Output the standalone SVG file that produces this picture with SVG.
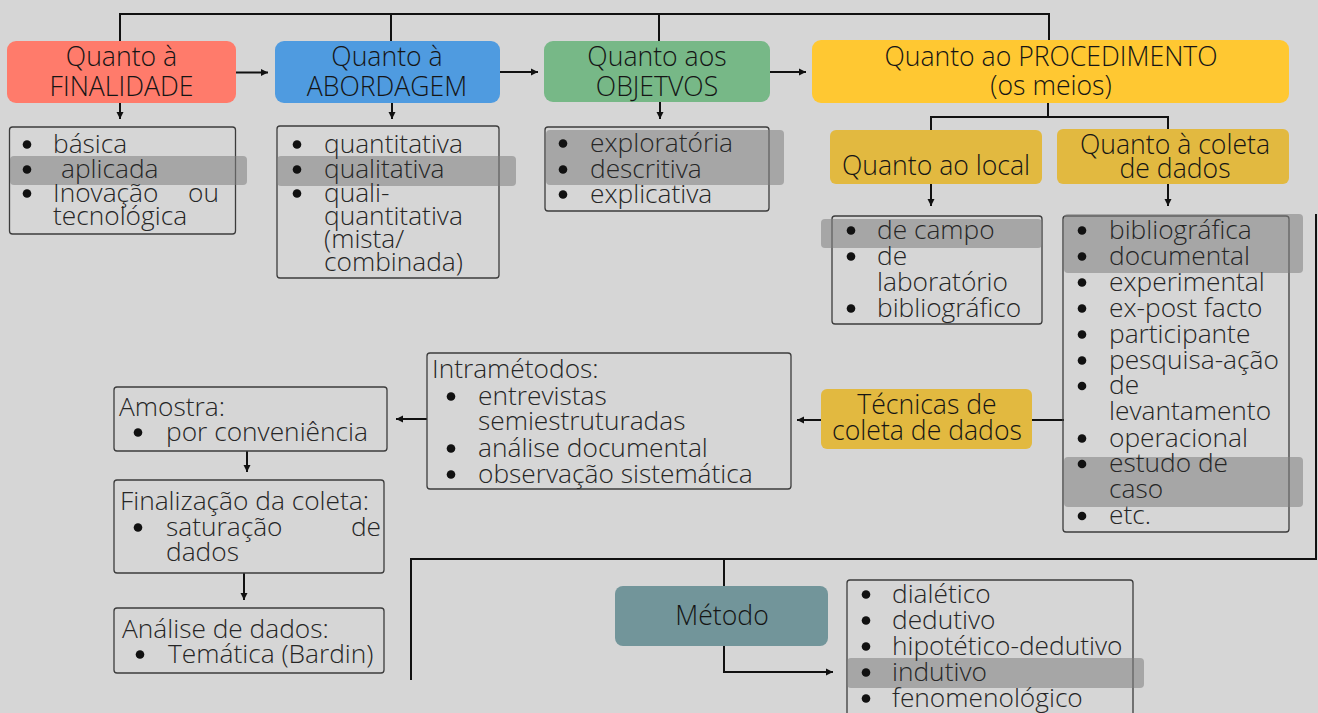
<svg xmlns="http://www.w3.org/2000/svg" width="1318" height="713" viewBox="0 0 1318 713">
<style>
.bg{fill:#d6d6d6}
.hd{font-family:"Open Sans","Liberation Sans",sans-serif;font-weight:300;font-size:26.6px;fill:#151515;text-anchor:middle}
.li{font-family:"Open Sans","Liberation Sans",sans-serif;font-weight:300;font-size:26.3px;fill:#262626}
.box{fill:none;stroke:#3c3c3c;stroke-width:1.3}
.hl{fill:#808080;opacity:0.55}
.dot{fill:#111}
.cn{fill:none;stroke:#111;stroke-width:2}
.r{fill:#ff7b6b}.b{fill:#4f9be0}.g{fill:#77b887}.y{fill:#ffc832}.m{fill:#e2b940}.t{fill:#72959a}
</style>
<defs>
<marker id="ah" markerUnits="userSpaceOnUse" markerWidth="8" markerHeight="8" refX="7" refY="4" orient="auto">
<path d="M0,0.5 L7,4 L0,7.5 z" fill="#111"/>
</marker>
</defs>
<rect class="bg" x="0" y="0" width="1318" height="713"/>

<g id="connectors">
<path class="cn" d="M120,41 V14 H1049 V41 M391,14 V41 M659,14 V41"/>
<path class="cn" d="M208,72.5 H268" marker-end="url(#ah)"/>
<path class="cn" d="M478,72 H538" marker-end="url(#ah)"/>
<path class="cn" d="M747,72 H806" marker-end="url(#ah)"/>
<path class="cn" d="M120,103 V119" marker-end="url(#ah)"/>
<path class="cn" d="M392,103 V119" marker-end="url(#ah)"/>
<path class="cn" d="M660,102 V119" marker-end="url(#ah)"/>
<path class="cn" d="M1048,103 V117 M931,130 V117 H1168 V130"/>
<path class="cn" d="M931,184 V206" marker-end="url(#ah)"/>
<path class="cn" d="M1168,184 V206" marker-end="url(#ah)"/>
<path class="cn" d="M1032,420 H1064"/>
<path class="cn" d="M821,420 H797" marker-end="url(#ah)"/>
<path class="cn" d="M427,419 H396" marker-end="url(#ah)"/>
<path class="cn" d="M247,451 V472" marker-end="url(#ah)"/>
<path class="cn" d="M244,573 V600" marker-end="url(#ah)"/>
<path class="cn" d="M1316,214 V559 H411 V680 M724,559 V586"/>
<path class="cn" d="M724,646 V672 H833" marker-end="url(#ah)"/>
</g>

<g id="finalidade">
<rect class="r" x="7" y="41" width="229" height="62" rx="9"/>
<text class="hd" x="121.5" y="66">Quanto à</text>
<text class="hd" x="121.5" y="96">FINALIDADE</text>
</g>
<g id="finalidade-list">
<rect class="box" x="9.5" y="127" width="226" height="107" rx="3"/>
<rect class="hl" x="10" y="156" width="237" height="29" rx="4"/>
<circle class="dot" cx="27" cy="144.5" r="4.3"/><text class="li" x="53" y="153">básica</text>
<circle class="dot" cx="27" cy="169.5" r="4.3"/><text class="li" x="61" y="178">aplicada</text>
<circle class="dot" cx="27" cy="193.5" r="4.3"/><text class="li" x="53" y="202">Inovação</text><text class="li" x="219" y="202" text-anchor="end">ou</text>
<text class="li" x="53" y="225">tecnológica</text>
</g>

<g id="abordagem">
<rect class="b" x="275" y="41" width="225" height="62" rx="9"/>
<text class="hd" x="387" y="66">Quanto à</text>
<text class="hd" x="387" y="96">ABORDAGEM</text>
</g>
<g id="abordagem-list">
<rect class="box" x="277" y="126" width="222" height="152" rx="3"/>
<rect class="hl" x="277" y="156" width="239" height="30" rx="4"/>
<circle class="dot" cx="297" cy="144.5" r="4.3"/><text class="li" x="324" y="153">quantitativa</text>
<circle class="dot" cx="297" cy="169.5" r="4.3"/><text class="li" x="324" y="178">qualitativa</text>
<circle class="dot" cx="297" cy="193.5" r="4.3"/><text class="li" x="324" y="202">quali-</text>
<text class="li" x="324" y="225">quantitativa</text>
<text class="li" x="324" y="248">(mista/</text>
<text class="li" x="324" y="271">combinada)</text>
</g>

<g id="objetivos">
<rect class="g" x="544" y="41" width="226" height="61" rx="9"/>
<text class="hd" x="657" y="66">Quanto aos</text>
<text class="hd" x="657" y="96">OBJETVOS</text>
</g>
<g id="objetivos-list">
<rect class="box" x="545" y="127" width="224" height="84" rx="3"/>
<rect class="hl" x="546" y="130" width="238" height="55" rx="4"/>
<circle class="dot" cx="563" cy="143.5" r="4.3"/><text class="li" x="590" y="152">exploratória</text>
<circle class="dot" cx="563" cy="169.5" r="4.3"/><text class="li" x="590" y="178">descritiva</text>
<circle class="dot" cx="563" cy="194.5" r="4.3"/><text class="li" x="590" y="203">explicativa</text>
</g>

<g id="procedimento">
<rect class="y" x="812" y="40" width="477" height="63" rx="9"/>
<text class="hd" x="1051" y="66">Quanto ao PROCEDIMENTO</text>
<text class="hd" x="1051" y="95">(os meios)</text>
</g>

<g id="local">
<rect class="m" x="830" y="130" width="212" height="54" rx="6"/>
<text class="hd" x="936" y="175">Quanto ao local</text>
</g>
<g id="local-list">
<rect class="box" x="832" y="216" width="210" height="108" rx="3"/>
<rect class="hl" x="821" y="219" width="221" height="29" rx="4"/>
<circle class="dot" cx="851" cy="230.5" r="4.3"/><text class="li" x="877" y="239">de campo</text>
<circle class="dot" cx="851" cy="256.5" r="4.3"/><text class="li" x="877" y="265">de</text>
<text class="li" x="877" y="291">laboratório</text>
<circle class="dot" cx="851" cy="308.5" r="4.3"/><text class="li" x="877" y="317">bibliográfico</text>
</g>

<g id="coleta">
<rect class="m" x="1057" y="129" width="232" height="55" rx="6"/>
<text class="hd" x="1175" y="154">Quanto à coleta</text>
<text class="hd" x="1175" y="178">de dados</text>
</g>
<g id="coleta-list">
<rect class="box" x="1063" y="216" width="226" height="316" rx="3"/>
<rect class="hl" x="1064" y="214" width="239" height="59" rx="4"/>
<rect class="hl" x="1064" y="457" width="239" height="50" rx="4"/>
<circle class="dot" cx="1082" cy="230.5" r="4.3"/><text class="li" x="1109" y="239">bibliográfica</text>
<circle class="dot" cx="1082" cy="256.5" r="4.3"/><text class="li" x="1109" y="265">documental</text>
<circle class="dot" cx="1082" cy="282.5" r="4.3"/><text class="li" x="1109" y="291">experimental</text>
<circle class="dot" cx="1082" cy="308.5" r="4.3"/><text class="li" x="1109" y="317">ex-post facto</text>
<circle class="dot" cx="1082" cy="334.5" r="4.3"/><text class="li" x="1109" y="343">participante</text>
<circle class="dot" cx="1082" cy="360.5" r="4.3"/><text class="li" x="1109" y="369">pesquisa-ação</text>
<circle class="dot" cx="1082" cy="386" r="4.3"/><text class="li" x="1109" y="394">de</text>
<text class="li" x="1109" y="420">levantamento</text>
<circle class="dot" cx="1082" cy="438.5" r="4.3"/><text class="li" x="1109" y="447">operacional</text>
<circle class="dot" cx="1082" cy="464" r="4.3"/><text class="li" x="1109" y="472">estudo de</text>
<text class="li" x="1109" y="498">caso</text>
<circle class="dot" cx="1082" cy="516" r="4.3"/><text class="li" x="1109" y="524">etc.</text>
</g>

<g id="tecnicas">
<rect class="m" x="821" y="389" width="211" height="60" rx="6"/>
<text class="hd" x="927" y="414">Técnicas de</text>
<text class="hd" x="927" y="440">coleta de dados</text>
</g>

<g id="intrametodos">
<rect class="box" x="427" y="353" width="364" height="136" rx="3"/>
<text class="li" x="432" y="378">Intramétodos:</text>
<circle class="dot" cx="451" cy="396.5" r="4.3"/><text class="li" x="478" y="405">entrevistas</text>
<text class="li" x="478" y="430">semiestruturadas</text>
<circle class="dot" cx="451" cy="448.5" r="4.3"/><text class="li" x="478" y="457">análise documental</text>
<circle class="dot" cx="451" cy="474.5" r="4.3"/><text class="li" x="478" y="483">observação sistemática</text>
</g>

<g id="amostra">
<rect class="box" x="114" y="387" width="273" height="64" rx="3"/>
<text class="li" x="119" y="416">Amostra:</text>
<circle class="dot" cx="138" cy="432.5" r="4.3"/><text class="li" x="166" y="441">por conveniência</text>
</g>

<g id="finalizacao">
<rect class="box" x="114" y="480" width="270" height="93" rx="3"/>
<text class="li" x="120" y="510">Finalização da coleta:</text>
<circle class="dot" cx="138" cy="527.5" r="4.3"/><text class="li" x="166" y="536">saturação</text><text class="li" x="381" y="536" text-anchor="end">de</text>
<text class="li" x="166" y="561">dados</text>
</g>

<g id="analise">
<rect class="box" x="114" y="608" width="270" height="65" rx="3"/>
<text class="li" x="122" y="638">Análise de dados:</text>
<circle class="dot" cx="140" cy="654.5" r="4.3"/><text class="li" x="168" y="663">Temática (Bardin)</text>
</g>

<g id="metodo">
<rect class="t" x="615" y="586" width="213" height="60" rx="8"/>
<text class="hd" x="722" y="625">Método</text>
</g>
<g id="metodo-list">
<rect class="box" x="847" y="580" width="286" height="140" rx="3"/>
<rect class="hl" x="847" y="658" width="297" height="30" rx="4"/>
<circle class="dot" cx="866" cy="594.5" r="4.3"/><text class="li" x="892" y="603">dialético</text>
<circle class="dot" cx="866" cy="620.5" r="4.3"/><text class="li" x="892" y="629">dedutivo</text>
<circle class="dot" cx="866" cy="646.5" r="4.3"/><text class="li" x="892" y="655">hipotético-dedutivo</text>
<circle class="dot" cx="866" cy="672.5" r="4.3"/><text class="li" x="892" y="681">indutivo</text>
<circle class="dot" cx="866" cy="698.5" r="4.3"/><text class="li" x="892" y="707">fenomenológico</text>
</g>
</svg>
